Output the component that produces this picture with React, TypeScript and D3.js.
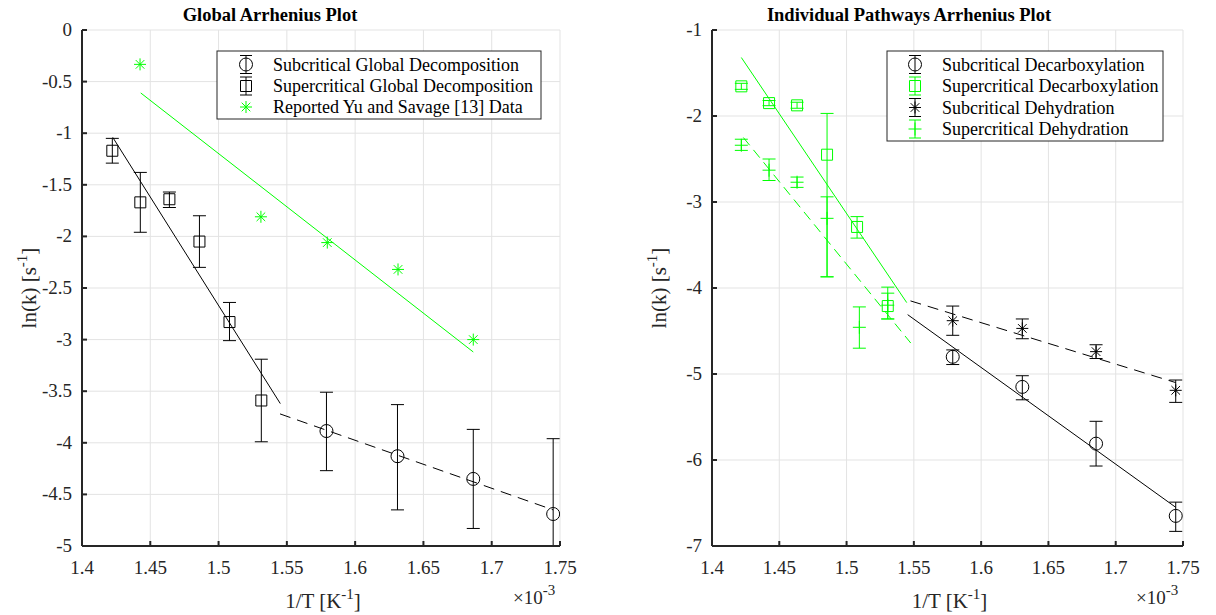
import React from "react";
import * as d3 from "d3";

// ---------- shared ticks ----------
const xTicks = [1.4, 1.45, 1.5, 1.55, 1.6, 1.65, 1.7, 1.75];
const leftYTicks = [0, -0.5, -1, -1.5, -2, -2.5, -3, -3.5, -4, -4.5, -5];
const rightYTicks = [-1, -2, -3, -4, -5, -6, -7];

// ---------- Global Arrhenius Plot ----------
const subGlobalX = [1.579, 1.631, 1.6865, 1.745];
const subGlobalY = [-3.886, -4.13, -4.35, -4.69];
const subGlobalHi = [-3.51, -3.63, -3.87, -3.96];
const subGlobalLo = [-4.27, -4.65, -4.83, -5.42];

const superGlobalX = [1.4222, 1.4427, 1.464, 1.486, 1.508, 1.5313];
const superGlobalY = [-1.17, -1.67, -1.64, -2.05, -2.83, -3.59];
const superGlobalHi = [-1.05, -1.38, -1.57, -1.8, -2.64, -3.19];
const superGlobalLo = [-1.29, -1.96, -1.72, -2.3, -3.01, -3.99];

const yuX = [1.4425, 1.531, 1.5796, 1.6314, 1.6865];
const yuY = [-0.333, -1.81, -2.06, -2.32, -3.0];

const superGlobalFitX = [1.4225, 1.5452];
const superGlobalFitY = [-1.04, -3.62];
const subGlobalFitX = [1.545, 1.745];
const subGlobalFitY = [-3.72, -4.65];
const yuFitX = [1.443, 1.6865];
const yuFitY = [-0.61, -3.12];

// ---------- Individual Pathways ----------
const supDecarbX = [1.4218, 1.4424, 1.4632, 1.4855, 1.5078, 1.5306];
const supDecarbY = [-1.655, -1.85, -1.876, -2.45, -3.29, -4.21];
const supDecarbHi = [-1.62, -1.82, -1.84, -1.97, -3.17, -3.99];
const supDecarbLo = [-1.69, -1.88, -1.91, -3.87, -3.42, -4.36];

const supDehydX = [1.4218, 1.4424, 1.4632, 1.4855, 1.5095, 1.5306];
const supDehydY = [-2.34, -2.63, -2.77, -3.19, -4.457, -4.2];
const supDehydHi = [-2.27, -2.5, -2.71, -2.94, -4.22, -4.06];
const supDehydLo = [-2.4, -2.75, -2.83, -3.87, -4.7, -4.36];

const subDecarbX = [1.5789, 1.6306, 1.6854, 1.7446];
const subDecarbY = [-4.8, -5.15, -5.81, -6.65];
const subDecarbHi = [-4.72, -5.02, -5.55, -6.49];
const subDecarbLo = [-4.89, -5.3, -6.07, -6.83];

const subDehydX = [1.5789, 1.6306, 1.6854, 1.7446];
const subDehydY = [-4.38, -4.47, -4.74, -5.19];
const subDehydHi = [-4.21, -4.36, -4.66, -5.07];
const subDehydLo = [-4.55, -4.59, -4.82, -5.33];

const supDecarbFitX = [1.4218, 1.5447];
const supDecarbFitY = [-1.32, -4.17];
const supDehydFitX = [1.4233, 1.5477];
const supDehydFitY = [-2.25, -4.64];
const subDecarbFitX = [1.5454, 1.7446];
const subDecarbFitY = [-4.31, -6.55];
const subDehydFitX = [1.5475, 1.7446];
const subDehydFitY = [-4.15, -5.1];

const FONT = "'Liberation Serif', 'Times New Roman', Times, serif";
const GREEN = "#00ff00";
const BLACK = "#000000";

type Marker = "circle" | "square" | "star" | "plus";

function markerPath(m: Marker): string {
  if (m === "circle") {
    const r = 6.5;
    return `M${-r},0a${r},${r} 0 1,0 ${2 * r},0a${r},${r} 0 1,0 ${-2 * r},0`;
  }
  if (m === "square") {
    const s = 5.5;
    return `M${-s},${-s}H${s}V${s}H${-s}Z`;
  }
  if (m === "star") {
    const a = 6, b = 4.3;
    return `M${-a},0H${a}M0,${-a}V${a}M${-b},${-b}L${b},${b}M${-b},${b}L${b},${-b}`;
  }
  const a = 6.5;
  return `M${-a},0H${a}M0,${-a}V${a}`;
}

interface Series {
  x: number[];
  y: number[];
  hi?: number[];
  lo?: number[];
  marker: Marker;
  color: string;
}
interface Fit {
  x: number[];
  y: number[];
  color: string;
  dash?: string;
}
interface LegendItem {
  label: string;
  marker: Marker;
  color: string;
  err: boolean;
}
interface PanelCfg {
  id: string;
  left: number;
  right: number;
  top: number;
  bottom: number;
  yDomain: [number, number];
  yTicks: number[];
  title: string;
  titleX: number;
  yLabelX: number;
  series: Series[];
  fits: Fit[];
  legend: { x: number; y: number; w: number; h: number; rowY: number[]; markerX: number; textX: number };
  legendItems: LegendItem[];
}

function Panel({ cfg }: { cfg: PanelCfg }) {
  const x = d3.scaleLinear().domain([1.4, 1.75]).range([cfg.left, cfg.right]);
  const y = d3.scaleLinear().domain(cfg.yDomain).range([cfg.bottom, cfg.top]);
  const line = d3
    .line<[number, number]>()
    .x((d) => x(d[0]))
    .y((d) => y(d[1]));
  const cap = 6.5;
  const clipId = `clip-${cfg.id}`;
  const axisColor = "#262626";
  const fmtY = (v: number) => (v === 0 ? "0" : String(v));
  const cx = (cfg.left + cfg.right) / 2;
  return (
    <g>
      <defs>
        <clipPath id={clipId}>
          <rect x={cfg.left} y={cfg.top} width={cfg.right - cfg.left} height={cfg.bottom - cfg.top} />
        </clipPath>
      </defs>
      {/* grid */}
      {xTicks.map((t) => (
        <line key={"gx" + t} x1={x(t)} x2={x(t)} y1={cfg.top} y2={cfg.bottom} stroke="#e3e3e3" strokeWidth={1} />
      ))}
      {cfg.yTicks.map((t) => (
        <line key={"gy" + t} x1={cfg.left} x2={cfg.right} y1={y(t)} y2={y(t)} stroke="#e3e3e3" strokeWidth={1} />
      ))}
      {/* data */}
      <g clipPath={`url(#${clipId})`}>
        {cfg.fits.map((f, i) => (
          <path
            key={"f" + i}
            d={line(f.x.map((v, j) => [v, f.y[j]] as [number, number])) || ""}
            fill="none"
            stroke={f.color}
            strokeWidth={1}
            strokeDasharray={f.dash}
          />
        ))}
        {cfg.series.map((s, i) => (
          <g key={"s" + i} stroke={s.color} fill="none" strokeWidth={1}>
            {s.x.map((v, j) => {
              const px = x(v);
              const py = y(s.y[j]);
              return (
                <g key={j}>
                  {s.hi && s.lo && (
                    <g>
                      <line x1={px} x2={px} y1={y(s.hi[j])} y2={y(s.lo[j])} />
                      <line x1={px - cap} x2={px + cap} y1={y(s.hi[j])} y2={y(s.hi[j])} />
                      <line x1={px - cap} x2={px + cap} y1={y(s.lo[j])} y2={y(s.lo[j])} />
                    </g>
                  )}
                  <path d={markerPath(s.marker)} transform={`translate(${px},${py})`} />
                </g>
              );
            })}
          </g>
        ))}
      </g>
      {/* axes */}
      <line x1={cfg.left} x2={cfg.right} y1={cfg.bottom} y2={cfg.bottom} stroke={axisColor} strokeWidth={2} />
      <line x1={cfg.left} x2={cfg.left} y1={cfg.top} y2={cfg.bottom} stroke={axisColor} strokeWidth={2} />
      {xTicks.map((t) => (
        <g key={"tx" + t}>
          <line x1={x(t)} x2={x(t)} y1={cfg.bottom} y2={cfg.bottom - 5} stroke={axisColor} strokeWidth={2} />
          <text x={x(t)} y={cfg.bottom + 28} textAnchor="middle" fontFamily={FONT} fontSize={19} fill="#262626">
            {String(t)}
          </text>
        </g>
      ))}
      {cfg.yTicks.map((t) => (
        <g key={"ty" + t}>
          <line x1={cfg.left} x2={cfg.left + 5} y1={y(t)} y2={y(t)} stroke={axisColor} strokeWidth={2} />
          <text x={cfg.left - 10} y={y(t) + 6} textAnchor="end" fontFamily={FONT} fontSize={19} fill="#262626">
            {fmtY(t)}
          </text>
        </g>
      ))}
      {/* title */}
      <text x={cfg.titleX} y={21} textAnchor="middle" fontFamily={FONT} fontSize={18.5} fontWeight="bold" fill="#000">
        {cfg.title}
      </text>
      {/* x label */}
      <text x={cx + 2} y={608} textAnchor="middle" fontFamily={FONT} fontSize={21} fill="#262626">
        1/T [K<tspan dy={-9} fontSize={15}>-1</tspan>
        <tspan dy={9}>]</tspan>
      </text>
      {/* x exponent */}
      <text x={cfg.right - 47} y={604} fontFamily={FONT} fontSize={19} fill="#262626">
        ×10<tspan dy={-9} fontSize={15}>-3</tspan>
      </text>
      {/* y label */}
      <text
        transform={`translate(${cfg.yLabelX},288) rotate(-90)`}
        textAnchor="middle"
        fontFamily={FONT}
        fontSize={21}
        fill="#262626"
      >
        ln(k) [s<tspan dy={-9} fontSize={15}>-1</tspan>
        <tspan dy={9}>]</tspan>
      </text>
      {/* legend */}
      <rect
        x={cfg.legend.x}
        y={cfg.legend.y}
        width={cfg.legend.w}
        height={cfg.legend.h}
        fill="#fff"
        stroke="#262626"
        strokeWidth={1}
      />
      {cfg.legendItems.map((it, i) => {
        const ly = cfg.legend.rowY[i];
        const mx = cfg.legend.markerX;
        return (
          <g key={"l" + i}>
            <g stroke={it.color} fill="none" strokeWidth={1}>
              {it.err && (
                <g>
                  <line x1={mx} x2={mx} y1={ly - 9} y2={ly + 9} />
                  <line x1={mx - 6} x2={mx + 6} y1={ly - 9} y2={ly - 9} />
                  <line x1={mx - 6} x2={mx + 6} y1={ly + 9} y2={ly + 9} />
                </g>
              )}
              <path d={markerPath(it.marker)} transform={`translate(${mx},${ly})`} />
            </g>
            <text x={cfg.legend.textX} y={ly + 6} fontFamily={FONT} fontSize={18} fill="#000">
              {it.label}
            </text>
          </g>
        );
      })}
    </g>
  );
}

const leftCfg: PanelCfg = {
  id: "left",
  left: 82,
  right: 560,
  top: 30,
  bottom: 546,
  yDomain: [-5, 0],
  yTicks: leftYTicks,
  title: "Global Arrhenius Plot",
  titleX: 270,
  yLabelX: 36,
  series: [
    { x: superGlobalX, y: superGlobalY, hi: superGlobalHi, lo: superGlobalLo, marker: "square", color: BLACK },
    { x: subGlobalX, y: subGlobalY, hi: subGlobalHi, lo: subGlobalLo, marker: "circle", color: BLACK },
    { x: yuX, y: yuY, marker: "star", color: GREEN },
  ],
  fits: [
    { x: superGlobalFitX, y: superGlobalFitY, color: BLACK },
    { x: subGlobalFitX, y: subGlobalFitY, color: BLACK, dash: "11,7" },
    { x: yuFitX, y: yuFitY, color: GREEN },
  ],
  legend: { x: 217, y: 51, w: 324, h: 68, rowY: [64.5, 86, 107], markerX: 246, textX: 273 },
  legendItems: [
    { label: "Subcritical Global Decomposition", marker: "circle", color: BLACK, err: true },
    { label: "Supercritical Global Decomposition", marker: "square", color: BLACK, err: true },
    { label: "Reported Yu and Savage [13] Data", marker: "star", color: GREEN, err: false },
  ],
};

const rightCfg: PanelCfg = {
  id: "right",
  left: 712,
  right: 1183,
  top: 30,
  bottom: 546,
  yDomain: [-7, -1],
  yTicks: rightYTicks,
  title: "Individual Pathways Arrhenius Plot",
  titleX: 909,
  yLabelX: 666,
  series: [
    { x: supDecarbX, y: supDecarbY, hi: supDecarbHi, lo: supDecarbLo, marker: "square", color: GREEN },
    { x: supDehydX, y: supDehydY, hi: supDehydHi, lo: supDehydLo, marker: "plus", color: GREEN },
    { x: subDecarbX, y: subDecarbY, hi: subDecarbHi, lo: subDecarbLo, marker: "circle", color: BLACK },
    { x: subDehydX, y: subDehydY, hi: subDehydHi, lo: subDehydLo, marker: "star", color: BLACK },
  ],
  fits: [
    { x: supDecarbFitX, y: supDecarbFitY, color: GREEN },
    { x: supDehydFitX, y: supDehydFitY, color: GREEN, dash: "10,6" },
    { x: subDecarbFitX, y: subDecarbFitY, color: BLACK },
    { x: subDehydFitX, y: subDehydFitY, color: BLACK, dash: "11,7" },
  ],
  legend: { x: 887, y: 51, w: 276, h: 90, rowY: [64.5, 86, 107.5, 129], markerX: 915, textX: 942 },
  legendItems: [
    { label: "Subcritical Decarboxylation", marker: "circle", color: BLACK, err: true },
    { label: "Supercritical Decarboxylation", marker: "square", color: GREEN, err: true },
    { label: "Subcritical Dehydration", marker: "star", color: BLACK, err: true },
    { label: "Supercritical Dehydration", marker: "plus", color: GREEN, err: true },
  ],
};

export default function App() {
  return (
    <div style={{ position: "absolute", left: 0, top: 0 }}>
      <svg width={1216} height={615} style={{ display: "block", background: "#fff" }}>
        <rect x={0} y={0} width={1216} height={615} fill="#fff" />
        <Panel cfg={leftCfg} />
        <Panel cfg={rightCfg} />
      </svg>
    </div>
  );
}
